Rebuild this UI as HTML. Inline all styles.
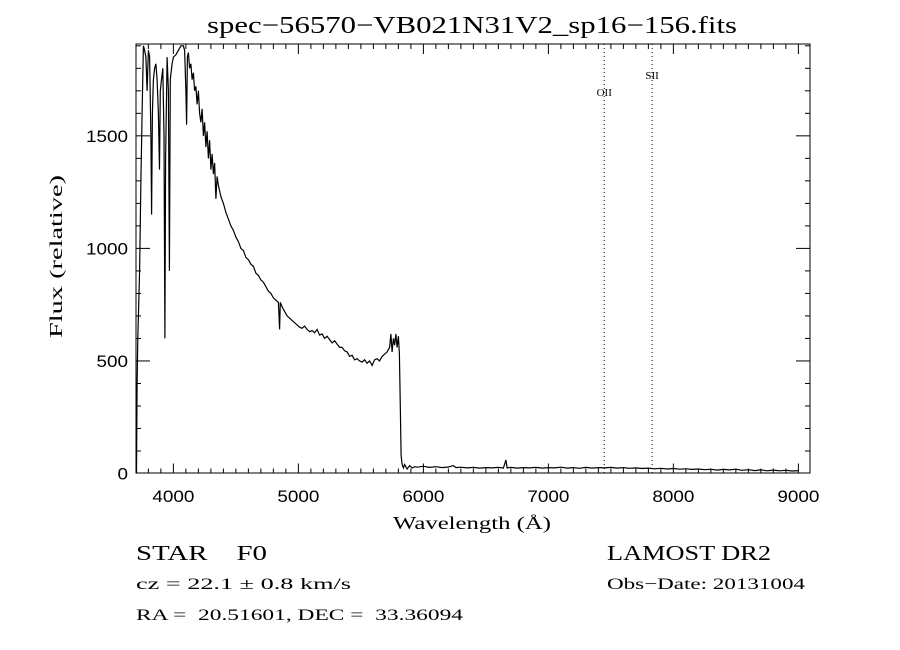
<!DOCTYPE html>
<html><head><meta charset="utf-8"><style>
body{margin:0;background:#fff;}
svg{display:block;}
</style></head><body>
<svg id="chart" width="900" height="650" viewBox="0 0 900 650" xmlns="http://www.w3.org/2000/svg">
<rect width="900" height="650" fill="#fff"/>
<text x="207" y="33" textLength="530" lengthAdjust="spacingAndGlyphs" font-family="Liberation Serif, serif" font-size="24">spec−56570−VB021N31V2_sp16−156.fits</text>
<rect x="136" y="44" width="674" height="429" fill="none" stroke="#000" stroke-width="1"/>
<g id="ticks"></g>
<g id="lines"></g>
<polyline id="spec" fill="none" stroke="#000" stroke-width="1.2"/>
<text x="393" y="529" textLength="158" lengthAdjust="spacingAndGlyphs" font-family="Liberation Serif, serif" font-size="18">Wavelength (Å)</text>
<text transform="translate(62,338) rotate(-90)" textLength="163" lengthAdjust="spacingAndGlyphs" font-family="Liberation Serif, serif" font-size="18">Flux (relative)</text>
<text x="136" y="560" textLength="131" lengthAdjust="spacingAndGlyphs" font-family="Liberation Serif, serif" font-size="21" xml:space="preserve">STAR    F0</text>
<text x="607" y="560" textLength="164" lengthAdjust="spacingAndGlyphs" font-family="Liberation Serif, serif" font-size="21">LAMOST DR2</text>
<text x="136" y="589" textLength="215" lengthAdjust="spacingAndGlyphs" font-family="Liberation Serif, serif" font-size="16">cz = 22.1 ± 0.8 km/s</text>
<text x="607" y="589" textLength="198" lengthAdjust="spacingAndGlyphs" font-family="Liberation Serif, serif" font-size="16">Obs−Date: 20131004</text>
<text x="136" y="620" textLength="327" lengthAdjust="spacingAndGlyphs" font-family="Liberation Serif, serif" font-size="16" xml:space="preserve">RA =  20.51601, DEC =  33.36094</text>
</svg>
<script>
const wavelengths=[3700,3705,3710,3715,3720,3730,3740,3750,3760,3770,3780,3790,3800,3810,3820,3826,3832,3840,3850,3860,3870,3880,3889,3895,3905,3915,3925,3932,3938,3950,3960,3968,3975,3990,4000,4020,4040,4060,4080,4090,4100,4106,4112,4120,4130,4140,4150,4160,4170,4180,4190,4200,4210,4220,4230,4240,4250,4260,4270,4280,4290,4300,4310,4320,4330,4340,4350,4360,4380,4400,4420,4440,4460,4480,4500,4520,4540,4560,4580,4600,4620,4640,4660,4680,4700,4720,4740,4760,4780,4800,4820,4840,4850,4855,4870,4890,4910,4930,4950,4970,4990,5010,5030,5050,5070,5090,5110,5130,5150,5170,5190,5210,5230,5250,5270,5290,5310,5330,5350,5370,5390,5410,5430,5450,5470,5490,5510,5530,5550,5570,5590,5610,5630,5650,5670,5690,5710,5730,5740,5750,5760,5770,5780,5790,5800,5808,5815,5822,5830,5840,5850,5870,5890,5910,5930,5950,6000,6050,6100,6150,6200,6240,6260,6300,6350,6400,6450,6500,6550,6600,6640,6660,6670,6700,6750,6800,6850,6900,6950,7000,7050,7100,7150,7200,7250,7300,7350,7400,7450,7500,7550,7600,7650,7700,7750,7800,7850,7900,7950,8000,8050,8100,8150,8200,8250,8300,8350,8400,8450,8500,8550,8600,8650,8700,8750,8800,8850,8900,8950,9000];
const fluxes=[0,5,400,600,700,900,1300,1600,1900,1880,1850,1700,1880,1850,1500,1150,1600,1750,1800,1820,1750,1600,1350,1700,1750,1800,1500,600,1400,1850,1700,900,1750,1820,1850,1860,1880,1900,1900,1880,1700,1550,1850,1870,1800,1820,1750,1780,1700,1720,1640,1700,1600,1560,1620,1500,1560,1450,1520,1400,1480,1350,1420,1330,1380,1220,1320,1280,1230,1200,1160,1130,1100,1080,1050,1030,1000,990,960,950,930,920,890,880,860,850,830,810,800,780,770,760,640,760,740,720,700,690,680,670,660,650,645,655,640,630,635,625,640,615,620,600,610,595,580,590,575,560,560,545,540,520,525,505,510,500,495,505,490,500,480,505,510,500,520,530,540,560,620,540,600,570,620,560,610,530,300,80,40,25,40,20,35,25,30,28,32,27,30,26,29,35,26,28,25,27,24,26,25,27,24,60,25,27,24,26,25,27,24,26,25,28,24,26,23,27,24,26,25,27,24,26,23,25,22,24,21,23,20,22,19,21,18,20,17,19,15,18,16,19,14,17,13,16,12,15,12,14,11,13];
const xTickLabels=[4000,5000,6000,7000,8000,9000];
const yTickLabels=[0,500,1000,1500];
const lineNames=["OII","SII"];
const lineWavelengths=[7447,7830];

const X0=136,X1=810,Y0=473.5,Y1=44;
const WMIN=3701,WMAX=9093,FMIN=0,FMAX=1908;
const sx=w=>X0+(w-WMIN)/(WMAX-WMIN)*(X1-X0);
const sy=f=>Y0-(f-FMIN)/(FMAX-FMIN)*(Y0-Y1);
const NS="http://www.w3.org/2000/svg";
function mk(tag,attrs,parent){const e=document.createElementNS(NS,tag);for(const k in attrs)e.setAttribute(k,attrs[k]);parent.appendChild(e);return e;}
const tg=document.getElementById('ticks');
for(let w=3800;w<=9000;w+=100){
  const major=w%1000===0, L=major?10:5, x=sx(w);
  const t1=mk('line',{x1:x,x2:x,y1:Y0,y2:Y0-L,stroke:'#000'},tg);
  
  
  const t2=mk('line',{x1:x,x2:x,y1:Y1,y2:Y1+L,stroke:'#000'},tg);
  
  
}
xTickLabels.forEach(w=>{
  const t=mk('text',{x:sx(w),y:502,'text-anchor':'middle','font-family':'Liberation Sans, sans-serif','font-size':'17',textLength:'42',lengthAdjust:'spacingAndGlyphs'},tg);
  t.textContent=w;
  
  
});
for(let f=100;f<=1900;f+=100){
  const major=f%500===0, L=major?14:5, y=sy(f);
  const t1=mk('line',{x1:X0,x2:X0+L,y1:y,y2:y,stroke:'#000'},tg);
  
  
  const t2=mk('line',{x1:X1,x2:X1-L,y1:y,y2:y,stroke:'#000'},tg);
  
  
}
yTickLabels.forEach(f=>{
  const s=String(f);
  const t=mk('text',{x:128-s.length*10.5,y:sy(f)+6,'font-family':'Liberation Sans, sans-serif','font-size':'17',textLength:String(s.length*10.5),lengthAdjust:'spacingAndGlyphs'},tg);
  t.textContent=s;
  
  
});
const lg=document.getElementById('lines');
lineNames.forEach((n,i)=>{
  const x=sx(lineWavelengths[i]);
  const l=mk('line',{x1:x,x2:x,y1:Y1,y2:Y0,stroke:'#000','stroke-dasharray':'1,3'},lg);
  
  
  const t=mk('text',{x:x,y:i===0?96:79,'text-anchor':'middle','font-family':'Liberation Serif, serif','font-size':'11'},lg);
  t.textContent=n;
  
  
});
const pts=wavelengths.map((w,i)=>sx(w).toFixed(1)+','+Math.max(Y1,sy(fluxes[i])).toFixed(1)).join(' ');
document.getElementById('spec').setAttribute('points',pts);
</script>
</body></html>
